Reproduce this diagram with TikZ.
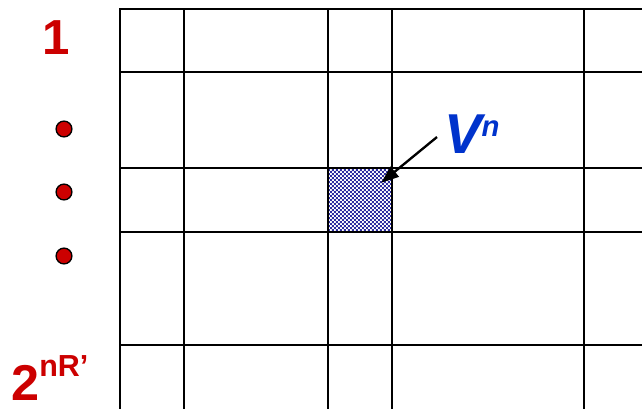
\documentclass[tikz,border=0pt]{standalone}
\usepackage{fontspec}
\setmainfont{Liberation Sans}
\usetikzlibrary{arrows.meta,patterns}
\definecolor{labelred}{RGB}{204,0,0}
\definecolor{labelblue}{RGB}{0,51,204}
\definecolor{cellblue}{RGB}{45,45,160}
\pgfdeclarepatternformonly{finecheck}{\pgfpointorigin}{\pgfqpoint{3.4pt}{3.4pt}}{\pgfqpoint{3.4pt}{3.4pt}}{
  \pgfpathrectangle{\pgfpointorigin}{\pgfqpoint{1.7pt}{1.7pt}}
  \pgfpathrectangle{\pgfqpoint{1.7pt}{1.7pt}}{\pgfqpoint{1.7pt}{1.7pt}}
  \pgfusepath{fill}
}
\tikzset{
  gridline/.style={line width=2.1pt, line cap=rect},
  idxlabel/.style={text=labelred, font=\bfseries, inner sep=0pt},
  dotmark/.style={circle, draw=black, line width=1.1pt, fill=labelred, minimum size=13.5pt, inner sep=0pt},
  cellbox/.style={draw=black, line width=2.1pt, pattern=finecheck, pattern color=cellblue, minimum width=64*0.03cm, minimum height=64*0.03cm, inner sep=0pt},
  pointer/.style={-{Triangle[length=15pt, width=11pt]}, line width=2pt}
}
\begin{document}
\begin{tikzpicture}[x=0.03cm, y=-0.03cm]
\useasboundingbox (0,0) rectangle (642,408);
% grid
\foreach \gx in {120,184,328,392,584}
  \draw[gridline] (\gx,9) -- (\gx,410);
\foreach \gy in {9,72,168,232,345}
  \draw[gridline] (120,\gy) -- (644,\gy);
% the marked cell
\node[cellbox] (cell) at (360,200) {};
% row labels
\node[idxlabel, anchor=base] (first) at (56,54) {\fontsize{42}{42}\selectfont 1};
\node[dotmark] (d1) at (64,129) {};
\node[dotmark] (d2) at (64,192) {};
\node[dotmark] (d3) at (64,256) {};
\node[idxlabel, anchor=base west] (last) at (11,400)
  {\raisebox{0pt}[\height][0pt]{\fontsize{43}{43}\selectfont 2\raisebox{20pt}{\fontsize{26}{26}\selectfont nR’}}};
% codeword label
\node[text=labelblue, font=\bfseries\itshape, inner sep=0pt, anchor=base west] (vn) at (444,153)
  {\fontsize{48}{48}\selectfont V\raisebox{14pt}{\fontsize{25}{25}\selectfont n}};
\coordinate (tail) at (437,137);
\draw[pointer] (tail) -- ([shift={(-12,16)}]cell.north east);
\end{tikzpicture}
\end{document}
